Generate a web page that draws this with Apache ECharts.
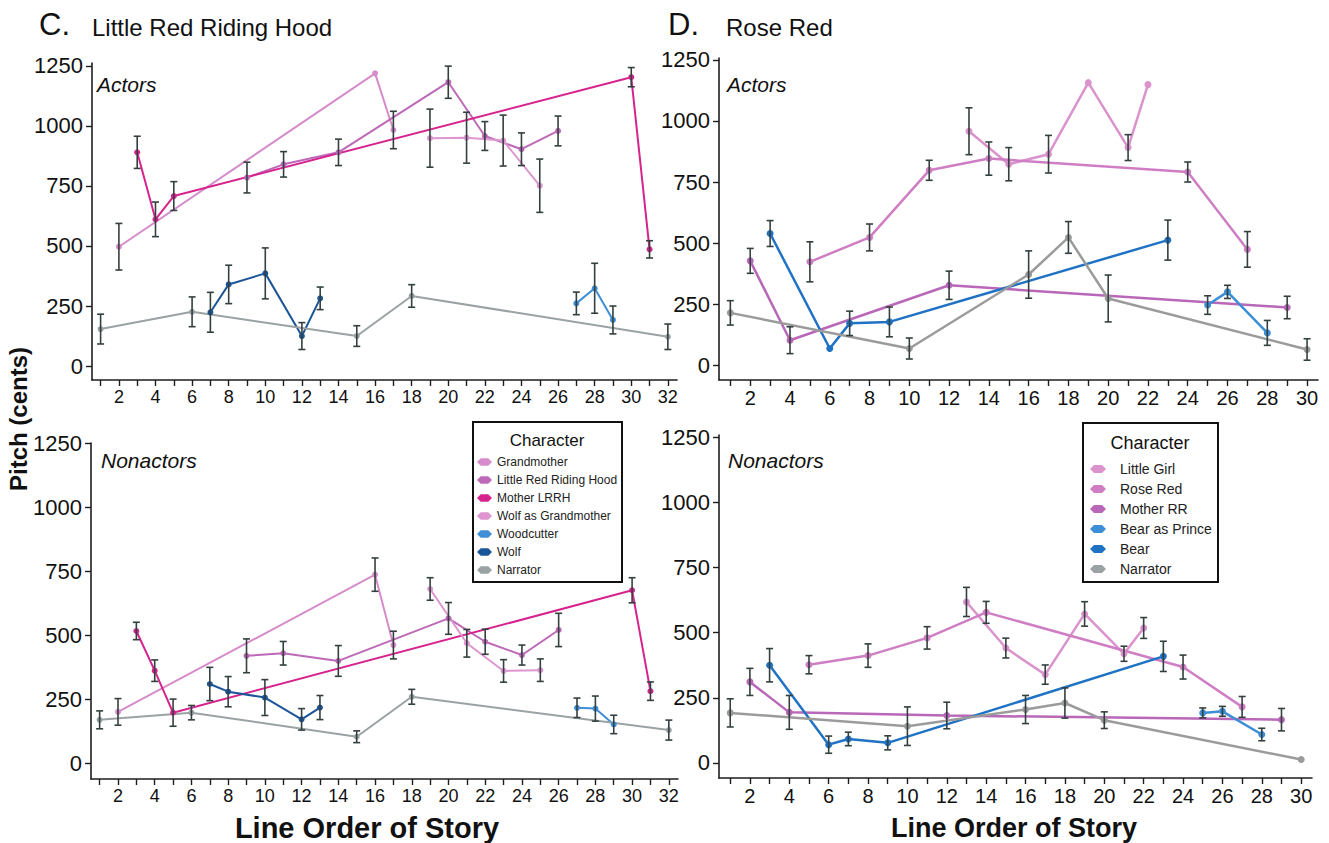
<!DOCTYPE html>
<html>
<head>
<meta charset="utf-8">
<script src="https://cdn.jsdelivr.net/npm/echarts@6/dist/echarts.min.js"></script>
<style>
  html, body { margin: 0; padding: 0; background: #fff; }
  #chart { width: 1329px; height: 843px; }
</style>
</head>
<body>
<div id="chart"></div>
<script>
        // [line order, mean pitch (cents), error half-width]
        // C. Little Red Riding Hood - actors
        const cActGrandmother = [[2, 497, 97], [16, 1219, 0], [17, 983, 78]];
        const cActLRRH = [[9, 785, 64], [11, 840, 53], [14, 890, 55], [20, 1182, 67], [22, 958, 60], [24, 903, 68], [26, 979, 62]];
        const cActMother = [[3, 890, 67], [4, 611, 72], [5, 708, 60], [30, 1203, 40], [31, 486, 36]];
        const cActWolfGran = [[19, 949, 121], [21, 951, 106], [23, 939, 106], [25, 751, 111]];
        const cActWoodcutter = [[27, 261, 47], [28, 324, 104], [29, 192, 58]];
        const cActWolf = [[7, 224, 83], [8, 340, 80], [10, 386, 106], [12, 125, 56], [13, 282, 47]];
        const cActNarrator = [[1, 154, 62], [6, 226, 62], [15, 125, 43], [18, 292, 47], [32, 122, 53]];

        // C. Little Red Riding Hood - nonactors
        const cNonGrandmother = [[2, 201, 52], [16, 737, 65], [17, 462, 54]];
        const cNonLRRH = [[9, 420, 66], [11, 430, 46], [14, 400, 60], [20, 566, 62], [22, 475, 49], [24, 423, 39], [26, 521, 65]];
        const cNonMother = [[3, 517, 34], [4, 362, 42], [5, 198, 53], [30, 676, 49], [31, 282, 36]];
        const cNonWolfGran = [[19, 681, 44], [21, 469, 54], [23, 361, 44], [25, 364, 44]];
        const cNonWoodcutter = [[27, 217, 38], [28, 214, 49], [29, 152, 36]];
        const cNonWolf = [[7, 310, 65], [8, 280, 59], [10, 257, 70], [12, 172, 42], [13, 218, 47]];
        const cNonNarrator = [[1, 170, 35], [6, 198, 28], [15, 104, 23], [18, 260, 29], [32, 130, 39]];

        // D. Rose Red - actors
        const dActLittleGirl = [[13, 958, 96], [15, 823, 68], [17, 864, 77], [19, 1157, 0], [21, 891, 53], [22, 1149, 0]];
        const dActRoseRed = [[5, 423, 82], [8, 523, 55], [11, 798, 41], [14, 846, 68], [24, 791, 41], [27, 474, 73]];
        const dActMother = [[2, 427, 51], [4, 102, 55], [12, 327, 58], [29, 236, 46]];
        const dActPrince = [[25, 246, 38], [26, 300, 27], [28, 132, 51]];
        const dActBear = [[3, 539, 53], [6, 68, 0], [7, 171, 50], [9, 177, 61], [23, 512, 82]];
        const dActNarrator = [[1, 214, 50], [10, 68, 43], [16, 371, 97], [18, 523, 65], [20, 273, 96], [30, 64, 44]];

        // D. Rose Red - nonactors
        const dNonLittleGirl = [[13, 618, 56], [15, 441, 38], [17, 339, 37], [19, 572, 47], [21, 419, 29], [22, 518, 40]];
        const dNonRoseRed = [[5, 377, 35], [8, 412, 45], [11, 480, 43], [14, 578, 42], [24, 368, 46], [27, 215, 40]];
        const dNonMother = [[2, 311, 52], [4, 194, 65], [12, 182, 51], [29, 166, 43]];
        const dNonPrince = [[25, 192, 19], [26, 198, 19], [28, 109, 24]];
        const dNonBear = [[3, 375, 64], [6, 70, 33], [7, 92, 26], [9, 77, 27], [23, 409, 58]];
        const dNonNarrator = [[1, 192, 54], [10, 141, 74], [16, 205, 54], [18, 230, 58], [20, 164, 32], [30, 13, 0]];

        // tick labels
        const yTicks = [0, 250, 500, 750, 1000, 1250];
        const cTicks = Array.from({ length: 32 }, (_, i) => i + 1);
        const cLabels = cTicks.filter(v => v % 2 === 0);
        const dTicks = Array.from({ length: 30 }, (_, i) => i + 1);
        const dLabels = dTicks.filter(v => v % 2 === 0);

        const cNames = ['Grandmother', 'Little Red Riding Hood', 'Mother LRRH', 'Wolf as Grandmother', 'Woodcutter', 'Wolf', 'Narrator'];
        const cColors = ['#d68ccb', '#bd69b8', '#d6238e', '#dd96d0', '#3f8fd6', '#1b5599', '#9aa2a4'];
        const dNames = ['Little Girl', 'Rose Red', 'Mother RR', 'Bear as Prince', 'Bear', 'Narrator'];
        const dColors = ['#da93cc', '#cf7ec3', '#b967b8', '#3c8ed6', '#1f72c4', '#9b9b9b'];

        const font = "'Liberation Sans', Arial, sans-serif";
        const axisColor = '#1e1e1e';

        const chartDom = document.getElementById('chart');
        const myChart = echarts.init(chartDom, null, { renderer: 'svg' });

        function lineSeries(name, pts, idx, color, width, size) {
            return {
                type: 'line',
                name: name,
                xAxisIndex: idx,
                yAxisIndex: idx,
                data: pts.map(p => [p[0], p[1]]),
                symbol: 'circle',
                symbolSize: size,
                itemStyle: { color: color },
                lineStyle: { color: color, width: width },
                emphasis: { disabled: true },
                z: 2
            };
        }

        function errSeries(pts, idx) {
            return {
                type: 'custom',
                name: 'err',
                xAxisIndex: idx,
                yAxisIndex: idx,
                data: pts.filter(p => p[2] > 0).map(p => [p[0], p[1] - p[2], p[1] + p[2]]),
                encode: { x: 0, y: [1, 2] },
                renderItem: function (params, api) {
                    const lo = api.coord([api.value(0), api.value(1)]);
                    const hi = api.coord([api.value(0), api.value(2)]);
                    const w = 3.5;
                    const st = { stroke: '#34403f', lineWidth: 1.6 };
                    return {
                        type: 'group',
                        children: [
                            { type: 'line', shape: { x1: lo[0], y1: lo[1], x2: hi[0], y2: hi[1] }, style: st },
                            { type: 'line', shape: { x1: lo[0] - w, y1: lo[1], x2: lo[0] + w, y2: lo[1] }, style: st },
                            { type: 'line', shape: { x1: hi[0] - w, y1: hi[1], x2: hi[0] + w, y2: hi[1] }, style: st }
                        ]
                    };
                },
                z: 3
            };
        }

        function xAxis(idx, min, max, ticks, labels, size) {
            return {
                type: 'value', gridIndex: idx, min: min, max: max,
                axisLine: { show: true, onZero: false, lineStyle: { color: axisColor, width: 1.6 } },
                axisTick: { show: true, customValues: ticks, length: 6, lineStyle: { color: axisColor, width: 1.4 } },
                axisLabel: { customValues: labels, fontSize: size, color: '#111', fontFamily: font, margin: 8, formatter: v => String(v) },
                splitLine: { show: false }
            };
        }

        function yAxis(idx, min, max) {
            return {
                type: 'value', gridIndex: idx, min: min, max: max,
                axisLine: { show: true, onZero: false, lineStyle: { color: axisColor, width: 1.6 } },
                axisTick: { show: true, customValues: yTicks, length: 6, lineStyle: { color: axisColor, width: 1.4 } },
                axisLabel: { customValues: yTicks, fontSize: 22, color: '#111', fontFamily: font, margin: 9, formatter: v => String(v) },
                splitLine: { show: false }
            };
        }

        const panels = [
            [cActGrandmother, cActLRRH, cActMother, cActWolfGran, cActWoodcutter, cActWolf, cActNarrator],
            [cNonGrandmother, cNonLRRH, cNonMother, cNonWolfGran, cNonWoodcutter, cNonWolf, cNonNarrator],
            [dActLittleGirl, dActRoseRed, dActMother, dActPrince, dActBear, dActNarrator],
            [dNonLittleGirl, dNonRoseRed, dNonMother, dNonPrince, dNonBear, dNonNarrator]
        ];

        const series = [];
        panels.forEach((list, idx) => {
            const isC = idx < 2;
            const names = isC ? cNames : dNames;
            const colors = isC ? cColors : dColors;
            list.forEach((pts, k) => {
                series.push(lineSeries(names[k], pts, idx, colors[k], isC ? 2 : 2.5, isC ? 6 : 7));
            });
            list.forEach(pts => series.push(errSeries(pts, idx)));
        });

        const legendIcon = 'path://M0,5 L4,1 L12,1 L16,5 L12,9 L4,9 Z';

        const option = {
            animation: false,
            backgroundColor: '#ffffff',
            grid: [
                { left: 92, top: 63, width: 585, height: 317 },
                { left: 91, top: 443, width: 587, height: 336 },
                { left: 719, top: 58, width: 599, height: 322 },
                { left: 719, top: 435, width: 593, height: 343 }
            ],
            xAxis: [
                xAxis(0, 0.53, 32.5, cTicks, cLabels, 18),
                xAxis(1, 0.53, 32.5, cTicks, cLabels, 18),
                xAxis(2, 0.43, 30.55, dTicks, dLabels, 20),
                xAxis(3, 0.43, 30.55, dTicks, dLabels, 20)
            ],
            yAxis: [
                yAxis(0, -58, 1262),
                yAxis(1, -61, 1251),
                yAxis(2, -61, 1258),
                yAxis(3, -58, 1259)
            ],
            legend: [
                {
                    data: cNames, orient: 'vertical', left: 477, top: 455, z: 20,
                    itemWidth: 15, itemHeight: 9, itemGap: 4, icon: legendIcon,
                    selectedMode: false, padding: 0,
                    textStyle: { fontSize: 12, lineHeight: 14, color: '#222', fontFamily: font }
                },
                {
                    data: dNames, orient: 'vertical', left: 1090, top: 461, z: 20,
                    itemWidth: 16, itemHeight: 9, itemGap: 4, icon: legendIcon,
                    selectedMode: false, padding: 0,
                    textStyle: { fontSize: 14, lineHeight: 16, color: '#222', fontFamily: font, padding: [0, 0, 0, 9] }
                }
            ],
            graphic: [
                { type: 'rect', shape: { x: 473, y: 422, width: 149, height: 160 }, style: { fill: '#fff', stroke: '#111', lineWidth: 2 }, z: 10 },
                { type: 'rect', shape: { x: 1083, y: 423, width: 135, height: 159 }, style: { fill: '#fff', stroke: '#111', lineWidth: 2 }, z: 10 },
                { type: 'text', x: 547, y: 440, style: { text: 'Character', font: '17px ' + font, fill: '#111', align: 'center', verticalAlign: 'middle' }, z: 11 },
                { type: 'text', x: 1150, y: 443, style: { text: 'Character', font: '18px ' + font, fill: '#111', align: 'center', verticalAlign: 'middle' }, z: 11 },
                { type: 'text', x: 39, y: 24, style: { text: 'C.', font: '31px ' + font, fill: '#111', verticalAlign: 'middle' } },
                { type: 'text', x: 92, y: 27, style: { text: 'Little Red Riding Hood', font: '24px ' + font, fill: '#111', verticalAlign: 'middle' } },
                { type: 'text', x: 668, y: 24, style: { text: 'D.', font: '31px ' + font, fill: '#111', verticalAlign: 'middle' } },
                { type: 'text', x: 726, y: 27, style: { text: 'Rose Red', font: '24px ' + font, fill: '#111', verticalAlign: 'middle' } },
                { type: 'text', x: 97, y: 84, style: { text: 'Actors', font: 'italic 21px ' + font, fill: '#111', verticalAlign: 'middle' } },
                { type: 'text', x: 101, y: 460, style: { text: 'Nonactors', font: 'italic 21px ' + font, fill: '#111', verticalAlign: 'middle' } },
                { type: 'text', x: 727, y: 84, style: { text: 'Actors', font: 'italic 21px ' + font, fill: '#111', verticalAlign: 'middle' } },
                { type: 'text', x: 728, y: 460, style: { text: 'Nonactors', font: 'italic 21px ' + font, fill: '#111', verticalAlign: 'middle' } },
                { type: 'text', x: 18, y: 419, rotation: Math.PI / 2, style: { text: 'Pitch (cents)', font: 'bold 24px ' + font, fill: '#111', align: 'center', verticalAlign: 'middle' } },
                { type: 'text', x: 367, y: 828, style: { text: 'Line Order of Story', font: 'bold 29px ' + font, fill: '#111', align: 'center', verticalAlign: 'middle' } },
                { type: 'text', x: 1014, y: 828, style: { text: 'Line Order of Story', font: 'bold 27px ' + font, fill: '#111', align: 'center', verticalAlign: 'middle' } }
            ],
            series: series
        };

        myChart.setOption(option);

        window.addEventListener('resize', () => {
            myChart.resize();
        });
</script>
</body>
</html>
